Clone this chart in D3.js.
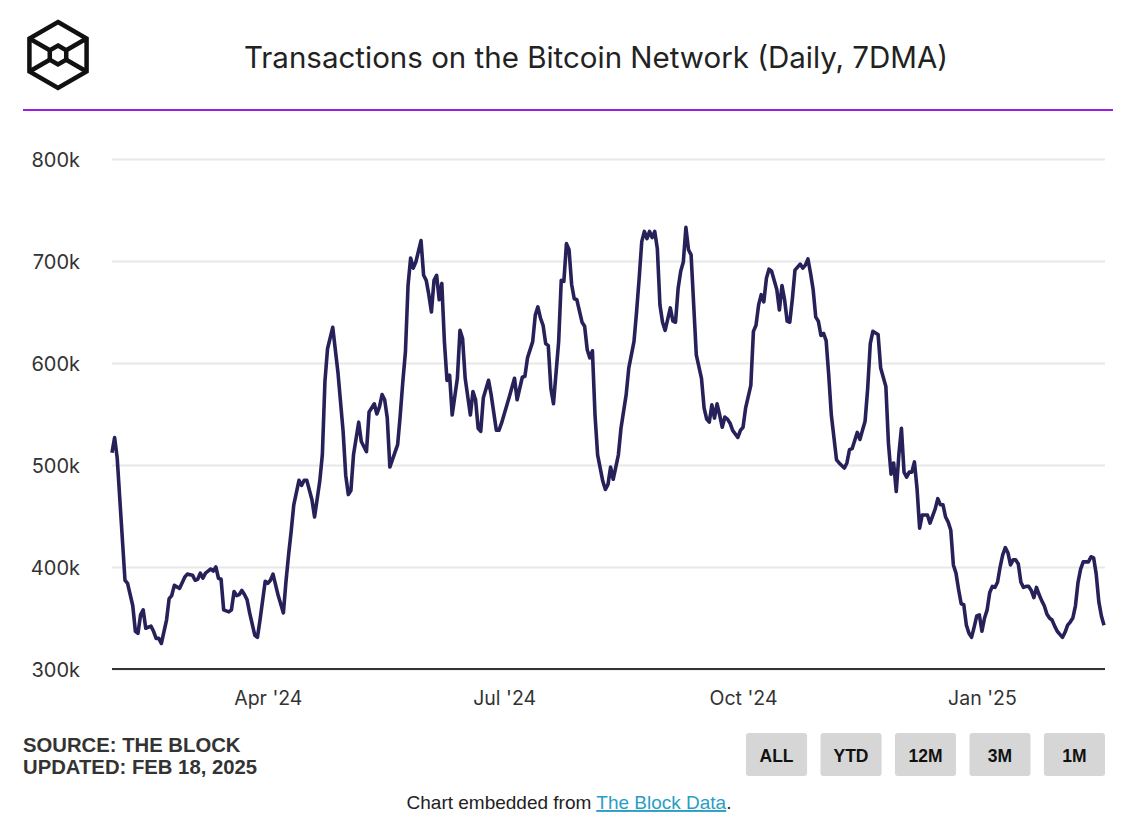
<!DOCTYPE html>
<html>
<head>
<meta charset="utf-8">
<script src="https://cdn.jsdelivr.net/npm/d3@7"></script>
<style>
  html, body { margin: 0; padding: 0; background: #fff; }
  svg { display: block; }
</style>
</head>
<body>
<svg id="chart" width="1137" height="818"></svg>
<script>
// ---- data (daily 7DMA transactions, thousands) ----
const series = [
["2024-02-01",512],["2024-02-02",527],["2024-02-03",507],["2024-02-06",387],["2024-02-07",384],["2024-02-09",362],["2024-02-10",337],["2024-02-11",335],["2024-02-12",353],["2024-02-13",358],["2024-02-14",340],["2024-02-16",342],["2024-02-17",337],["2024-02-18",330],["2024-02-19",330],["2024-02-20",325],["2024-02-22",348],["2024-02-23",369],["2024-02-24",372],["2024-02-25",382],["2024-02-27",379],["2024-02-29",390],
["2024-03-01",393],["2024-03-03",392],["2024-03-04",387],["2024-03-05",388],["2024-03-06",394],["2024-03-07",389],["2024-03-08",394],["2024-03-09",396],["2024-03-10",398],["2024-03-11",396],["2024-03-12",400],["2024-03-13",389],["2024-03-14",388],["2024-03-15",358],["2024-03-17",356],["2024-03-18",358],["2024-03-19",376],["2024-03-20",372],["2024-03-21",373],["2024-03-22",377],["2024-03-23",373],["2024-03-24",368],["2024-03-25",355],["2024-03-27",333],["2024-03-28",331],["2024-03-29",348],["2024-03-31",386],
["2024-04-01",384],["2024-04-02",387],["2024-04-03",393],["2024-04-05",372],["2024-04-07",355],["2024-04-08",386],["2024-04-09",412],["2024-04-10",435],["2024-04-11",461],["2024-04-13",485],["2024-04-14",480],["2024-04-15",485],["2024-04-16",485],["2024-04-18",466],["2024-04-19",449],["2024-04-21",484],["2024-04-22",510],["2024-04-23",582],["2024-04-24",614],["2024-04-26",635],["2024-04-28",591],["2024-04-30",533],
["2024-05-01",490],["2024-05-02",471],["2024-05-03",475],["2024-05-04",510],["2024-05-06",542],["2024-05-07",523],["2024-05-09",513],["2024-05-10",552],["2024-05-12",560],["2024-05-13",550],["2024-05-14",557],["2024-05-15",569],["2024-05-16",564],["2024-05-17",546],["2024-05-18",498],["2024-05-21",520],["2024-05-22",549],["2024-05-23",582],["2024-05-24",611],["2024-05-25",676],["2024-05-26",703],["2024-05-27",693],["2024-05-28",699],["2024-05-30",720],["2024-05-31",686],
["2024-06-01",681],["2024-06-02",667],["2024-06-03",650],["2024-06-04",681],["2024-06-05",686],["2024-06-06",662],["2024-06-07",678],["2024-06-08",621],["2024-06-09",583],["2024-06-10",588],["2024-06-11",549],["2024-06-13",585],["2024-06-14",632],["2024-06-15",624],["2024-06-16",585],["2024-06-18",549],["2024-06-19",572],["2024-06-20",564],["2024-06-21",536],["2024-06-22",533],["2024-06-23",566],["2024-06-25",583],["2024-06-26",569],["2024-06-28",534],["2024-06-29",534],["2024-06-30",541],
["2024-07-03",567],["2024-07-05",585],["2024-07-06",564],["2024-07-08",586],["2024-07-09",587],["2024-07-10",605],["2024-07-12",621],["2024-07-13",647],["2024-07-14",655],["2024-07-15",644],["2024-07-16",637],["2024-07-17",619],["2024-07-18",617],["2024-07-19",575],["2024-07-20",560],["2024-07-22",621],["2024-07-23",681],["2024-07-24",680],["2024-07-25",717],["2024-07-26",711],["2024-07-27",677],["2024-07-28",663],["2024-07-29",662],["2024-07-31",640],
["2024-08-01",636],["2024-08-02",613],["2024-08-03",605],["2024-08-04",612],["2024-08-05",549],["2024-08-06",510],["2024-08-08",484],["2024-08-09",476],["2024-08-10",481],["2024-08-11",498],["2024-08-12",486],["2024-08-14",510],["2024-08-15",536],["2024-08-17",569],["2024-08-18",595],["2024-08-20",621],["2024-08-21",650],["2024-08-22",683],["2024-08-23",719],["2024-08-24",729],["2024-08-25",722],["2024-08-26",729],["2024-08-27",723],["2024-08-28",729],["2024-08-29",712],["2024-08-30",657],["2024-08-31",640],
["2024-09-01",632],["2024-09-03",654],["2024-09-04",641],["2024-09-05",640],["2024-09-06",673],["2024-09-07",690],["2024-09-08",699],["2024-09-09",733],["2024-09-10",711],["2024-09-11",706],["2024-09-12",657],["2024-09-13",608],["2024-09-15",585],["2024-09-16",556],["2024-09-17",545],["2024-09-18",542],["2024-09-19",559],["2024-09-20",546],["2024-09-21",560],["2024-09-22",549],["2024-09-23",537],["2024-09-24",547],["2024-09-25",545],["2024-09-26",541],["2024-09-27",534],["2024-09-29",527],["2024-09-30",534],
["2024-10-01",537],["2024-10-02",556],["2024-10-04",578],["2024-10-05",631],["2024-10-06",637],["2024-10-07",657],["2024-10-08",667],["2024-10-09",660],["2024-10-10",683],["2024-10-11",692],["2024-10-12",690],["2024-10-14",672],["2024-10-15",652],["2024-10-16",676],["2024-10-17",662],["2024-10-18",641],["2024-10-19",640],["2024-10-20",663],["2024-10-21",691],["2024-10-23",697],["2024-10-24",693],["2024-10-25",696],["2024-10-26",702],["2024-10-27",688],["2024-10-28",672],["2024-10-29",645],["2024-10-30",641],["2024-10-31",627],
["2024-11-01",629],["2024-11-02",622],["2024-11-03",588],["2024-11-04",549],["2024-11-06",505],["2024-11-07",502],["2024-11-09",497],["2024-11-10",502],["2024-11-11",515],["2024-11-12",516],["2024-11-14",532],["2024-11-15",525],["2024-11-16",534],["2024-11-17",543],["2024-11-18",575],["2024-11-19",619],["2024-11-20",631],["2024-11-22",628],["2024-11-23",595],["2024-11-25",577],["2024-11-26",521],["2024-11-27",491],["2024-11-28",502],["2024-11-29",474],["2024-11-30",510],
["2024-12-01",536],["2024-12-02",493],["2024-12-03",488],["2024-12-04",493],["2024-12-05",493],["2024-12-06",503],["2024-12-07",477],["2024-12-08",438],["2024-12-09",451],["2024-12-11",451],["2024-12-12",443],["2024-12-14",457],["2024-12-15",467],["2024-12-16",461],["2024-12-17",461],["2024-12-18",449],["2024-12-19",444],["2024-12-20",436],["2024-12-21",402],["2024-12-22",394],["2024-12-23",378],["2024-12-24",364],["2024-12-25",363],["2024-12-26",343],["2024-12-27",335],["2024-12-28",331],["2024-12-29",341],["2024-12-30",352],["2024-12-31",353],
["2025-01-01",337],["2025-01-02",350],["2025-01-03",358],["2025-01-04",375],["2025-01-05",381],["2025-01-06",380],["2025-01-07",385],["2025-01-08",400],["2025-01-09",412],["2025-01-10",419],["2025-01-11",414],["2025-01-12",402],["2025-01-13",407],["2025-01-14",407],["2025-01-15",403],["2025-01-16",385],["2025-01-17",380],["2025-01-18",381],["2025-01-19",381],["2025-01-20",377],["2025-01-21",370],["2025-01-22",380],["2025-01-23",373],["2025-01-24",367],["2025-01-25",362],["2025-01-26",354],["2025-01-27",350],["2025-01-28",348],["2025-01-29",342],["2025-01-30",337],["2025-01-31",334],
["2025-02-01",331],["2025-02-02",336],["2025-02-03",343],["2025-02-04",346],["2025-02-05",350],["2025-02-06",362],["2025-02-07",385],["2025-02-08",398],["2025-02-09",405],["2025-02-10",405],["2025-02-11",405],["2025-02-12",410],["2025-02-13",409],["2025-02-14",393],["2025-02-15",366],["2025-02-16",352],["2025-02-17",343]
];
const yTicks = [300000, 400000, 500000, 600000, 700000, 800000];
const xTickDates = ["2024-04-01", "2024-07-01", "2024-10-01", "2025-01-01"];
const xTickLabels = ["Apr '24", "Jul '24", "Oct '24", "Jan '25"];
const buttons = ["ALL", "YTD", "12M", "3M", "1M"];
const titleText = "Transactions on the Bitcoin Network (Daily, 7DMA)";
const sourceLines = ["SOURCE: THE BLOCK", "UPDATED: FEB 18, 2025"];

// ---- drawing ----
const parse = d3.utcParse("%Y-%m-%d");
const data = series.map(d => ({ date: parse(d[0]), value: d[1] * 1000 }));
const svg = d3.select("#chart");
const font = "Inter, 'Noto Sans', sans-serif";

// logo
const logo = svg.append("g").attr("transform", "translate(58,55)")
  .attr("fill", "none").attr("stroke", "#111").attr("stroke-width", 4.5).attr("stroke-linejoin", "miter");
const R = 33, r = 9.5;
const hex = (rad) => d3.range(6).map(i => {
  const a = -Math.PI / 2 + i * Math.PI / 3;
  return [rad * Math.cos(a), rad * Math.sin(a)];
});
const outer = hex(R), inner = hex(r);
logo.append("polygon").attr("points", outer.map(p => p.join(",")).join(" "));
logo.append("polygon").attr("points", inner.map(p => p.join(",")).join(" "));
[1, 2, 4, 5].forEach(k => {
  logo.append("line").attr("x1", outer[k][0]).attr("y1", outer[k][1]).attr("x2", inner[k][0]).attr("y2", inner[k][1]);
});

// title
svg.append("text").attr("x", 596).attr("y", 68).attr("text-anchor", "middle")
  .attr("font-family", font).attr("font-size", 29.5).attr("fill", "#222").text(titleText);
svg.append("line").attr("x1", 23).attr("x2", 1113).attr("y1", 110).attr("y2", 110)
  .attr("stroke", "#9b1fe0").attr("stroke-width", 2);

// scales
const x = d3.scaleUtc().domain([parse("2024-02-01"), parse("2025-02-17")]).range([112, 1104]);
const y = d3.scaleLinear().domain([300000, 800000]).range([669, 159]);

// grid + y labels
const yAxis = d3.axisLeft(y).tickValues(yTicks).tickSize(-(1105 - 112)).tickPadding(32)
  .tickFormat(d => (d / 1000) + "k");
const gy = svg.append("g").attr("transform", "translate(112,0)").call(yAxis);
gy.select(".domain").remove();
gy.selectAll(".tick line").attr("stroke", "#e8e8e8").attr("stroke-width", 2);
gy.selectAll(".tick text").attr("font-family", font).attr("font-size", 20).attr("fill", "#333").attr("dy", "0.38em");

// x axis
const xAxis = d3.axisBottom(x).tickValues(xTickDates.map(parse)).tickSize(0).tickPadding(22)
  .tickFormat((d, i) => xTickLabels[i]);
const gx = svg.append("g").attr("transform", "translate(0,669)").call(xAxis);
gx.select(".domain").attr("stroke", "#333").attr("stroke-width", 2).attr("d", "M112,0H1105");
gx.selectAll(".tick text").attr("font-family", font).attr("font-size", 19.5).attr("fill", "#333");

// line
const line = d3.line().x(d => x(d.date)).y(d => y(d.value)).curve(d3.curveLinear);
svg.append("path").datum(data).attr("d", line).attr("fill", "none")
  .attr("stroke", "#27215a").attr("stroke-width", 3.6).attr("stroke-linejoin", "round");

// source
const cond = "'Liberation Sans Narrow', 'Liberation Sans', Arial, sans-serif";
sourceLines.forEach((t, i) => {
  svg.append("text").attr("x", 23).attr("y", 752 + i * 22).attr("font-family", cond)
    .attr("font-weight", "bold").attr("font-size", 20.3).attr("fill", "#333").text(t);
});

// buttons
const bx = d3.scaleBand().domain(buttons).range([746, 1105]).paddingInner(0.18);
const bg = svg.append("g").selectAll("g").data(buttons).join("g")
  .attr("transform", d => `translate(${bx(d)},733)`);
bg.append("rect").attr("width", bx.bandwidth()).attr("height", 43).attr("rx", 3).attr("fill", "#d6d6d6");
bg.append("text").attr("x", bx.bandwidth() / 2).attr("y", 29).attr("text-anchor", "middle")
  .attr("font-family", cond).attr("font-weight", "bold").attr("font-size", 17.5).attr("fill", "#111").text(d => d);

// embed footer
const ft = svg.append("text").attr("x", 569).attr("y", 809).attr("text-anchor", "middle")
  .attr("font-family", cond).attr("font-size", 19).attr("fill", "#222");
ft.append("tspan").text("Chart embedded from ");
ft.append("tspan").attr("fill", "#2a9dc4").attr("text-decoration", "underline").text("The Block Data");
ft.append("tspan").text(".");
</script>
</body>
</html>
